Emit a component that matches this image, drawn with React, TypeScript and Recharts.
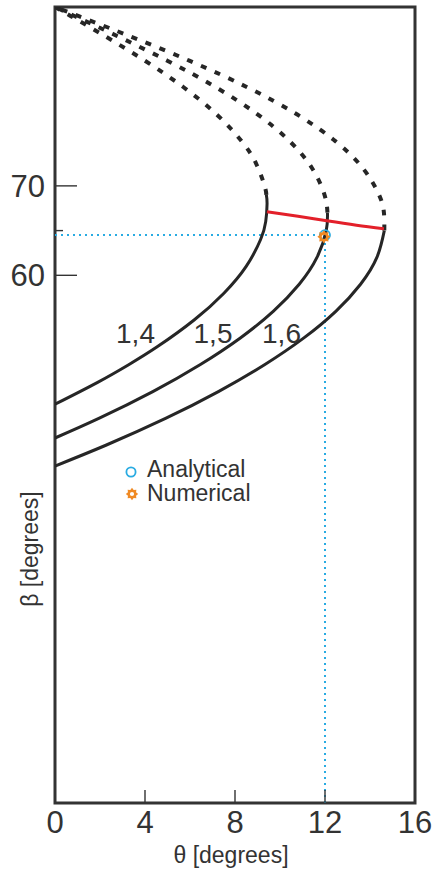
import React from 'react'
import { ComposedChart, Line, Scatter, XAxis, YAxis, ReferenceArea } from 'recharts'

// Recharts has no css-var support for strokes, so plain hex values here.
const FONT = '"Liberation Sans", Arial, sans-serif'
const INK = '#262626'
const AXIS = '#333333'
const RED = '#e3202a'
const BLUE = '#29abe2'
const ORANGE = '#f08a24'

// [theta, beta] pairs in degrees (weak = solid, strong = dashed)
const M14_WEAK = [[0, 45.58], [1.875, 48], [3.274, 50], [4.541, 52], [6.183, 55], [7.507, 58], [8.497, 61], [9.138, 64], [9.365, 66], [9.425, 68], [9.393, 69]]
const M14_STRONG = [[9.393, 69], [9.316, 70], [8.938, 72.5], [8.294, 75], [7.181, 78], [5.729, 81], [3.993, 84], [2.051, 87], [0.689, 89], [0, 90]]
const M15_WEAK = [[0, 41.81], [1.947, 44], [4.347, 47], [6.444, 50], [8.238, 53], [9.711, 56], [10.854, 59], [11.643, 62], [12.055, 65], [12.109, 67]]
const M15_STRONG = [[12.109, 67], [11.979, 69], [11.42, 72], [10.425, 75], [9.001, 78], [7.167, 81], [4.992, 84], [2.563, 87], [0.861, 89], [0, 90]]
const M16_WEAK = [[0, 38.68], [2.26, 41], [4.913, 44], [7.261, 47], [9.312, 50], [11.062, 53], [12.491, 56], [13.58, 59], [14.306, 62], [14.636, 65]]
const M16_STRONG = [[14.636, 65], [14.619, 67], [14.402, 69], [13.676, 72], [12.46, 75], [10.752, 78], [8.565, 81], [5.968, 84], [3.067, 87], [1.031, 89], [0, 90]]
const SONIC = [[9.42, 67.1], [10.8, 66.6], [12.08, 66.1], [13.4, 65.6], [14.62, 65.2]]

const GUIDE_H = [[0, 64.5], [12, 64.5]]
const GUIDE_V = [[12, 1], [12, 64.5]]
const ANALYTICAL = [[12, 64.5]]
const NUMERICAL = [[11.95, 64.3]]

const CURVE_LABELS = ['1,4', '1,5', '1,6']
const X_TICKS = [0, 4, 8, 12, 16]
const Y_TICKS = [60, 65, 70]
const Y_LABELLED = [60, 70]

const pts = (arr: number[][]) => arr.map(([x, y]) => ({ x, y }))

function gearPath(cx: number, cy: number, ro: number, ri: number, hole: number) {
    const n = 8
    let d = ''
    for (let i = 0; i < n * 2; i++) {
        const r = i % 2 === 0 ? ro : ri
        const a = (Math.PI * i) / n
        d += `${i === 0 ? 'M' : 'L'}${cx + r * Math.cos(a)},${cy + r * Math.sin(a)}`
    }
    d += 'Z'
    d += `M${cx + hole},${cy}A${hole},${hole} 0 1 0 ${cx - hole},${cy}A${hole},${hole} 0 1 0 ${cx + hole},${cy}Z`
    return d
}

function Gear({ cx, cy, size = 1 }: { cx: number; cy: number; size?: number }) {
    return <path d={gearPath(cx, cy, 6.5 * size, 4.6 * size, 2.2 * size)} fill={ORANGE} fillRule="evenodd" />
}

// eslint-disable-next-line @typescript-eslint/no-explicit-any
function ThetaTick({ x, y, payload }: any) {
    const v = payload.value
    const inner = v > 0 && v < 16
    return (
        <g>
            {inner && <line x1={x} x2={x} y1={y} y2={y - 13} stroke={AXIS} strokeWidth={1.4} />}
            <text x={x} y={y + 30} textAnchor="middle" fontSize={31} fill={AXIS} fontFamily={FONT}>
                {v}
            </text>
        </g>
    )
}

// eslint-disable-next-line @typescript-eslint/no-explicit-any
function BetaTick({ x, y, payload }: any) {
    const v = payload.value
    const major = Y_LABELLED.includes(v)
    return (
        <g>
            <line x1={x} x2={x + (major ? 22 : 8)} y1={y} y2={y} stroke={AXIS} strokeWidth={1.4} />
            {major && (
                <text x={x - 10} y={y} dy="0.36em" textAnchor="end" fontSize={31} fill={AXIS} fontFamily={FONT}>
                    {v}
                </text>
            )}
        </g>
    )
}

export default function App() {
    const solid = { type: 'natural' as const, dataKey: 'y', dot: false, stroke: INK, strokeWidth: 3, isAnimationActive: false }
    const dashed = { ...solid, strokeWidth: 4, strokeDasharray: '6 9' }
    const guide = { type: 'linear' as const, dataKey: 'y', dot: false, stroke: BLUE, strokeWidth: 2, strokeDasharray: '2 4', isAnimationActive: false }

    return (
        <div style={{ position: 'absolute', left: 0, top: 0, width: 435, height: 872, background: '#fff' }}>
            <ComposedChart width={435} height={872} margin={{ top: 7, right: 20, bottom: 0, left: 0 }}>
                <XAxis
                    type="number"
                    dataKey="x"
                    domain={[0, 16]}
                    ticks={X_TICKS}
                    height={69}
                    tickSize={0}
                    tickMargin={0}
                    axisLine={false}
                    tickLine={false}
                    tick={ThetaTick}
                    allowDataOverflow
                />
                <YAxis
                    type="number"
                    dataKey="y"
                    domain={[1, 90]}
                    ticks={Y_TICKS}
                    width={55}
                    tickSize={0}
                    tickMargin={0}
                    axisLine={false}
                    tickLine={false}
                    tick={BetaTick}
                    allowDataOverflow
                />
                <Line data={pts(GUIDE_H)} {...guide} />
                <Line data={pts(GUIDE_V)} {...guide} />
                <Line data={pts(M14_WEAK)} {...solid} />
                <Line data={pts(M14_STRONG)} {...dashed} />
                <Line data={pts(M15_WEAK)} {...solid} />
                <Line data={pts(M15_STRONG)} {...dashed} />
                <Line data={pts(M16_WEAK)} {...solid} />
                <Line data={pts(M16_STRONG)} {...dashed} />
                <Line data={pts(SONIC)} type="natural" dataKey="y" dot={false} stroke={RED} strokeWidth={3} isAnimationActive={false} />
                <Scatter
                    data={pts(ANALYTICAL)}
                    dataKey="y"
                    isAnimationActive={false}
                    // eslint-disable-next-line @typescript-eslint/no-explicit-any
                    shape={(p: any) => <circle cx={p.cx} cy={p.cy} r={5} fill="none" stroke={BLUE} strokeWidth={1.8} />}
                />
                <Scatter
                    data={pts(NUMERICAL)}
                    dataKey="y"
                    isAnimationActive={false}
                    // eslint-disable-next-line @typescript-eslint/no-explicit-any
                    shape={(p: any) => <Gear cx={p.cx} cy={p.cy} />}
                />
                <ReferenceArea x1={0} x2={16} y1={1} y2={90} fill="none" stroke={AXIS} strokeWidth={3} ifOverflow="visible" />
            </ComposedChart>

            {/* labels, legend and axis titles */}
            <svg width={435} height={872} style={{ position: 'absolute', left: 0, top: 0, pointerEvents: 'none' }}>
                <g fontFamily={FONT} fill={AXIS}>
                    <text x={135.5} y={343} fontSize={28} textAnchor="middle">{CURVE_LABELS[0]}</text>
                    <text x={213} y={343} fontSize={28} textAnchor="middle">{CURVE_LABELS[1]}</text>
                    <text x={281.5} y={343} fontSize={28} textAnchor="middle">{CURVE_LABELS[2]}</text>

                    <circle cx={131} cy={472} r={4.6} fill="none" stroke={BLUE} strokeWidth={1.8} />
                    <text x={147} y={477} fontSize={23}>Analytical</text>
                    <Gear cx={132} cy={494} size={0.95} />
                    <text x={147} y={501} fontSize={23}>Numerical</text>

                    <text x={231} y={863} fontSize={23} textAnchor="middle">θ [degrees]</text>
                    <text x={38} y={549} fontSize={23} textAnchor="middle" transform="rotate(-90 38 549)">β [degrees]</text>
                </g>
            </svg>
        </div>
    )
}
